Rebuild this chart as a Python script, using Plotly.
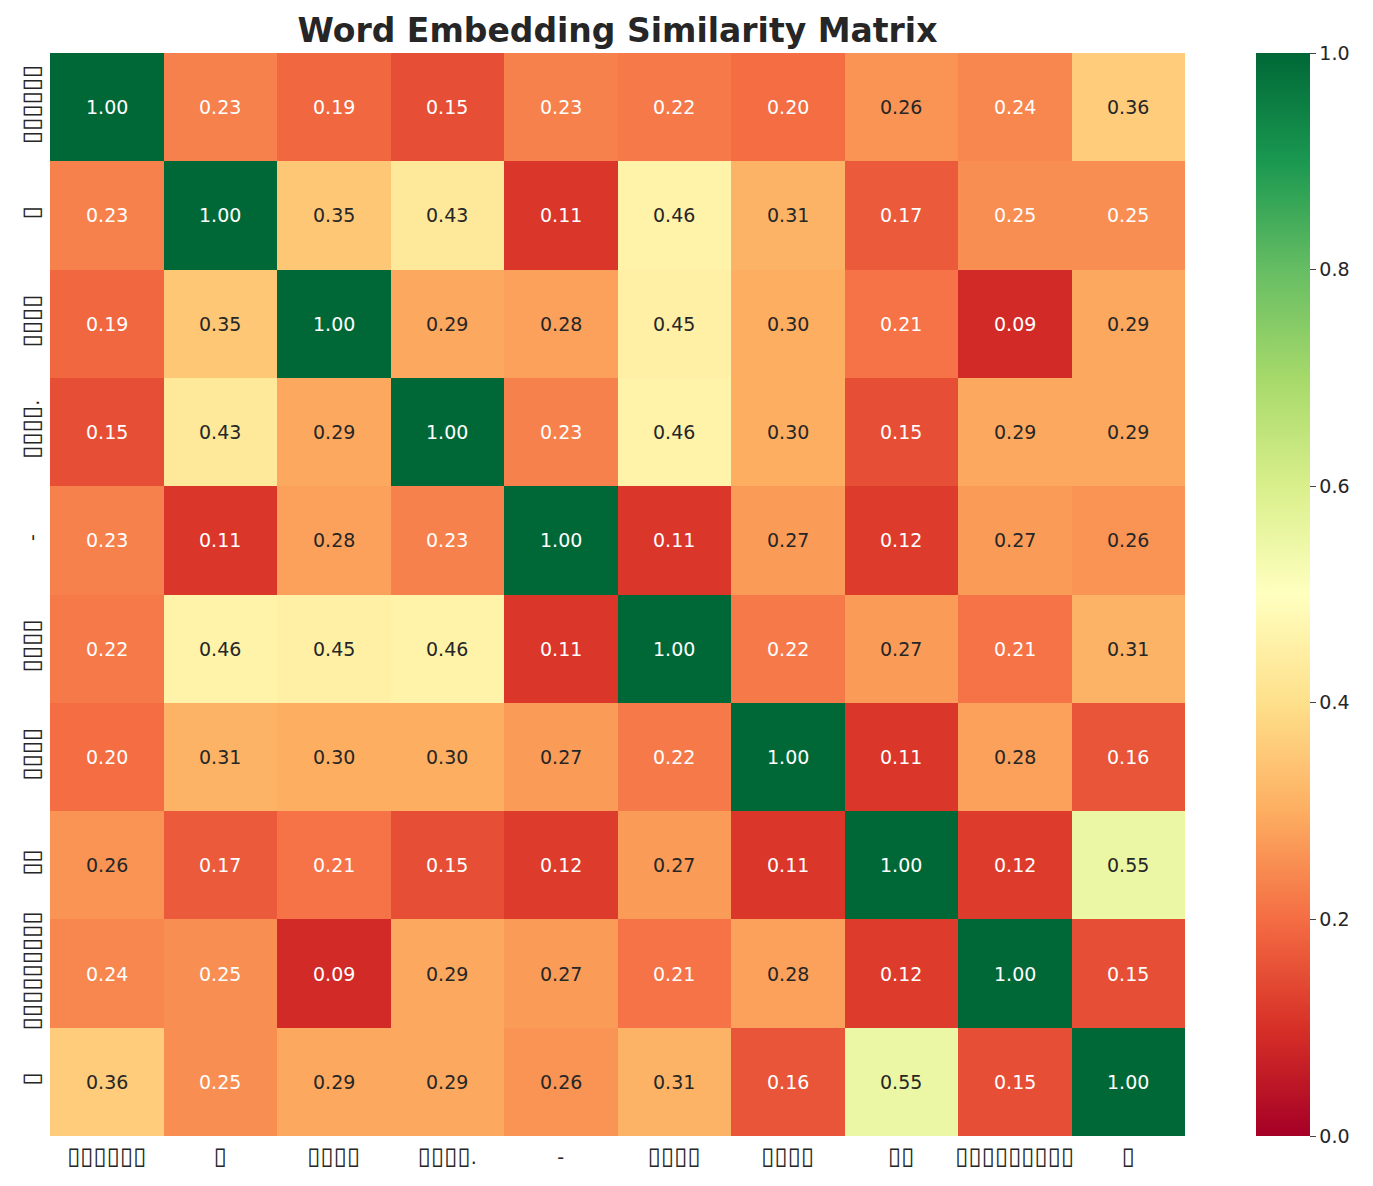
import plotly.graph_objects as go
from plotly.colors import sample_colorscale, get_colorscale

labels = ["▯▯▯▯▯▯", "▯", "▯▯▯▯", "▯▯▯▯.", "-", "▯▯▯▯", "▯▯▯▯", "▯▯", "▯▯▯▯▯▯▯▯▯", "▯"]

values = [
    [1.00, 0.23, 0.19, 0.15, 0.23, 0.22, 0.20, 0.26, 0.24, 0.36],
    [0.23, 1.00, 0.35, 0.43, 0.11, 0.46, 0.31, 0.17, 0.25, 0.25],
    [0.19, 0.35, 1.00, 0.29, 0.28, 0.45, 0.30, 0.21, 0.09, 0.29],
    [0.15, 0.43, 0.29, 1.00, 0.23, 0.46, 0.30, 0.15, 0.29, 0.29],
    [0.23, 0.11, 0.28, 0.23, 1.00, 0.11, 0.27, 0.12, 0.27, 0.26],
    [0.22, 0.46, 0.45, 0.46, 0.11, 1.00, 0.22, 0.27, 0.21, 0.31],
    [0.20, 0.31, 0.30, 0.30, 0.27, 0.22, 1.00, 0.11, 0.28, 0.16],
    [0.26, 0.17, 0.21, 0.15, 0.12, 0.27, 0.11, 1.00, 0.12, 0.55],
    [0.24, 0.25, 0.09, 0.29, 0.27, 0.21, 0.28, 0.12, 1.00, 0.15],
    [0.36, 0.25, 0.29, 0.29, 0.26, 0.31, 0.16, 0.55, 0.15, 1.00],
]

n = len(labels)
idx = list(range(n))
cscale = get_colorscale("RdYlGn")


def text_color(v):
    c = sample_colorscale(cscale, [v])[0]
    r, g, b = [float(x) for x in c[c.index("(") + 1:c.index(")")].split(",")]

    def lin(u):
        u = u / 255.0
        return u / 12.92 if u <= 0.03928 else ((u + 0.055) / 1.055) ** 2.4

    lum = 0.2126 * lin(r) + 0.7152 * lin(g) + 0.0722 * lin(b)
    return "#262626" if lum > 0.408 else "white"


def fmt_label(s):
    # enlarge the box glyphs so they resemble the reference's tofu boxes
    out = ""
    run = ""
    for ch in s:
        if ch == "▯":
            run += ch
        else:
            if run:
                out += f'<span style="font-size:24px">{run}</span>'
                run = ""
            out += ch
    if run:
        out += f'<span style="font-size:24px">{run}</span>'
    return out


ticktext = [fmt_label(s) for s in labels]

fig = go.Figure()
fig.add_trace(go.Heatmap(
    z=values, x=idx, y=idx,
    colorscale="RdYlGn", zmin=0, zmax=1,
    xgap=0, ygap=0,
    hovertemplate="%{z:.2f}<extra></extra>",
    colorbar=dict(
        x=1.0626, xanchor="left", xpad=0,
        y=0, yanchor="bottom", len=1, lenmode="fraction", ypad=0,
        thickness=54, outlinewidth=0,
        ticks="outside", ticklen=6, tickwidth=1.2, tickcolor="#444",
        tickvals=[0, 0.2, 0.4, 0.6, 0.8, 1.0],
        ticktext=["0.0", "0.2", "0.4", "0.6", "0.8", "1.0"],
        tickfont=dict(family="DejaVu Sans", size=19, color="#262626"),
    ),
))

annotations = []
for i in range(n):
    for j in range(n):
        v = values[i][j]
        annotations.append(dict(
            x=j, y=i, xref="x", yref="y", text=f"{v:.2f}", showarrow=False,
            font=dict(family="DejaVu Sans", size=19, color=text_color(v)),
        ))

fig.update_layout(
    width=1373, height=1186,
    margin=dict(l=50, r=188, t=53, b=50),
    paper_bgcolor="white", plot_bgcolor="white",
    title=dict(text="<b>Word Embedding Similarity Matrix</b>", x=(50 + 1185) / 2 / 1373, xanchor="center",
               y=1 - 30 / 1186, yanchor="middle",
               font=dict(family="DejaVu Sans", size=33, color="#262626")),
    annotations=annotations,
    xaxis=dict(tickvals=idx, ticktext=ticktext, range=[-0.5, n - 0.5], showgrid=False, zeroline=False,
               ticks="", ticklabelstandoff=8,
               tickfont=dict(family="DejaVu Sans", size=19, color="#262626")),
    yaxis=dict(tickvals=idx, ticktext=ticktext, range=[n - 0.5, -0.5], showgrid=False, zeroline=False,
               ticks="", tickangle=-90, ticklabelstandoff=6,
               tickfont=dict(family="DejaVu Sans", size=19, color="#262626")),
)

fig.write_html("out.html")
